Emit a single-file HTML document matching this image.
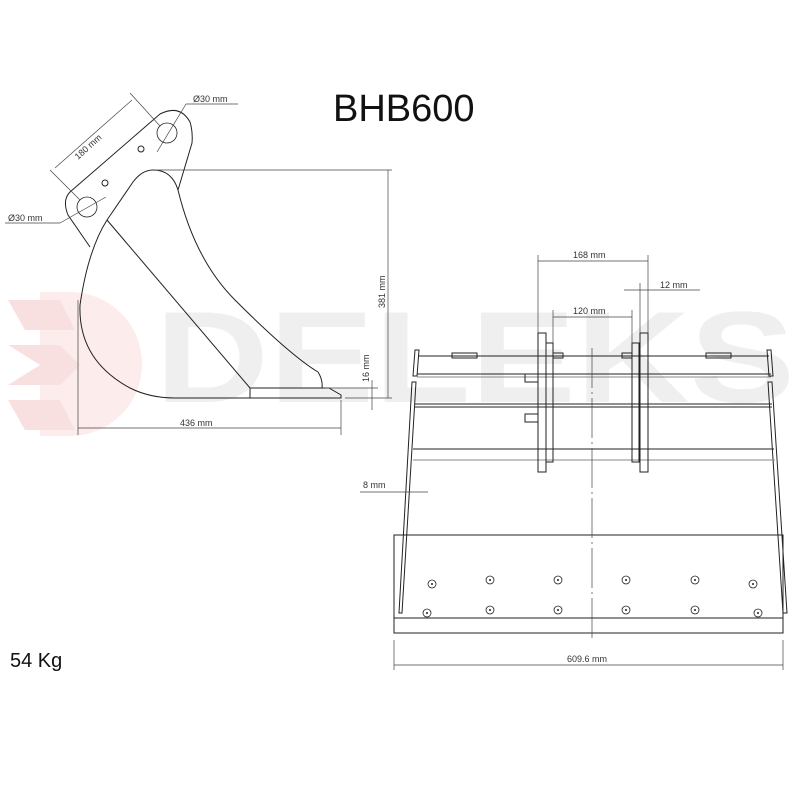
<!DOCTYPE html>
<html><head><style>
html,body{margin:0;padding:0;background:#fff;}
svg{display:block;}
text{font-family:"Liberation Sans",sans-serif;}
</style></head><body>
<svg width="800" height="800" viewBox="0 0 800 800" xmlns="http://www.w3.org/2000/svg">
<!-- watermark -->
<g opacity="0.75">
<path d="M70,292 A72,72 0 0 1 70,436 L40,436 L40,292 Z" fill="#fbe6e6"/>
<path d="M8,300 L60,300 L75,330 L25,330 Z M8,345 L60,345 L80,365 L60,385 L8,385 L40,365 Z M8,400 L60,400 L75,430 L25,430 Z" fill="#f8d6d6"/>
</g>
<text x="155" y="402" font-size="130" font-weight="bold" fill="#efefef" textLength="640" lengthAdjust="spacingAndGlyphs">DELEKS</text>
<text x="333" y="121" font-size="38" fill="#111">BHB600</text>
<text x="10" y="667" font-size="20" fill="#111">54 Kg</text>

<g fill="none" stroke="#222" stroke-width="1">
<path d="M90,247 L68,215 Q62,200 70,192 L160,114 Q180,104 190,122 Q193,132 192,143 L178,190"/>
<circle cx="87" cy="207" r="10" stroke-width="0.8"/>
<circle cx="167" cy="133" r="10" stroke-width="0.8"/>
<circle cx="141" cy="149" r="3"/>
<circle cx="105" cy="183" r="3"/>
<path d="M107,220 L133,182 Q142,170 153,170 Q172,170 178,190 Q195,260 235,300 Q290,355 318,372 Q323,380 322,388"/>
<path d="M107,220 Q88,250 80,305 Q78,360 130,388 Q150,398 175,398 L341,398 L341,395 L329,388 L250,388 L250,398"/>
<path d="M107,220 L250,388"/>
</g>
<g stroke="#444" stroke-width="0.7" fill="none">
<line x1="50" y1="170" x2="80" y2="200"/><line x1="130" y1="93" x2="160" y2="126"/>
<line x1="55" y1="168" x2="132" y2="100"/>
<line x1="155" y1="170" x2="392" y2="170"/>
<line x1="388" y1="170" x2="388" y2="398"/>
<line x1="345" y1="398" x2="392" y2="398"/>
<line x1="325" y1="388" x2="378" y2="388"/>
<line x1="372" y1="380" x2="372" y2="410"/>
<line x1="78" y1="300" x2="78" y2="435"/><line x1="341" y1="400" x2="341" y2="435"/>
<line x1="78" y1="428" x2="341" y2="428"/>
<line x1="5" y1="223" x2="60" y2="223"/><line x1="60" y1="223" x2="106" y2="197"/>
<line x1="238" y1="104" x2="186" y2="104"/><line x1="186" y1="104" x2="157" y2="152"/>
</g>
<g font-size="9" fill="#333">
<text x="0" y="0" transform="translate(78,160) rotate(-42)">180 mm</text>
<text x="8" y="221">Ø30 mm</text>
<text x="193" y="102">Ø30 mm</text>
<text x="0" y="0" transform="translate(385,308) rotate(-90)">381 mm</text>
<text x="0" y="0" transform="translate(369,382) rotate(-90)">16 mm</text>
<text x="180" y="426">436 mm</text>
</g>
<g fill="none" stroke="#222" stroke-width="1">
<path d="M415,350 L419,350 L417,376 L413,376 Z"/>
<path d="M412,382 L416,382 L402,613 L399,613 Z"/>
<path d="M767,350 L771,350 L773,376 L769,376 Z"/>
<path d="M768,382 L772,382 L787,613 L783,613 Z"/>
<line x1="419" y1="356" x2="769" y2="356"/>
<line x1="417" y1="374" x2="771" y2="374"/><line x1="417" y1="377" x2="771" y2="377" stroke="#888"/>
<line x1="415" y1="404" x2="772" y2="404"/><line x1="415" y1="407" x2="772" y2="407"/>
<line x1="413" y1="449" x2="774" y2="449"/>
<line x1="413" y1="460" x2="775" y2="460" stroke="#888"/>
<rect x="452" y="353" width="25" height="5"/><rect x="706" y="353" width="25" height="5"/>
<rect x="553" y="353" width="10" height="5"/><rect x="622" y="353" width="10" height="5"/>
<rect x="525" y="374" width="13" height="8"/><rect x="525" y="414" width="13" height="8"/>
<rect x="538" y="333" width="8" height="139"/><rect x="546" y="343" width="7" height="119"/>
<rect x="640" y="333" width="8" height="139"/><rect x="632" y="343" width="7" height="119"/>
<rect x="394" y="535" width="389" height="98"/>
<line x1="394" y1="618" x2="783" y2="618"/>
</g>
<line x1="592" y1="348" x2="592" y2="640" stroke="#444" stroke-width="0.7" stroke-dasharray="40,4,2,4"/>
<g fill="none" stroke="#222" stroke-width="0.8">
<circle cx="432" cy="584" r="4"/><circle cx="490" cy="580" r="4"/><circle cx="558" cy="580" r="4"/><circle cx="626" cy="580" r="4"/><circle cx="695" cy="580" r="4"/><circle cx="753" cy="584" r="4"/>
<circle cx="427" cy="613" r="4"/><circle cx="490" cy="610" r="4"/><circle cx="558" cy="610" r="4"/><circle cx="626" cy="610" r="4"/><circle cx="695" cy="610" r="4"/><circle cx="758" cy="613" r="4"/>
</g>
<g fill="#222">
<circle cx="432" cy="584" r="1"/><circle cx="490" cy="580" r="1"/><circle cx="558" cy="580" r="1"/><circle cx="626" cy="580" r="1"/><circle cx="695" cy="580" r="1"/><circle cx="753" cy="584" r="1"/>
<circle cx="427" cy="613" r="1"/><circle cx="490" cy="610" r="1"/><circle cx="558" cy="610" r="1"/><circle cx="626" cy="610" r="1"/><circle cx="695" cy="610" r="1"/><circle cx="758" cy="613" r="1"/>
</g>
<g stroke="#444" stroke-width="0.7">
<line x1="538" y1="255" x2="538" y2="333"/><line x1="648" y1="255" x2="648" y2="333"/>
<line x1="538" y1="261" x2="648" y2="261"/>
<line x1="640" y1="283" x2="640" y2="333"/>
<line x1="624" y1="290" x2="700" y2="290"/>
<line x1="553" y1="310" x2="553" y2="343"/><line x1="632" y1="310" x2="632" y2="343"/>
<line x1="553" y1="317" x2="632" y2="317"/>
<line x1="360" y1="492" x2="428" y2="492"/>
<line x1="394" y1="640" x2="394" y2="670"/><line x1="783" y1="640" x2="783" y2="670"/>
<line x1="394" y1="665" x2="783" y2="665"/>
</g>
<g font-size="9" fill="#333">
<text x="573" y="258">168 mm</text>
<text x="660" y="288">12 mm</text>
<text x="573" y="314">120 mm</text>
<text x="363" y="488">8 mm</text>
<text x="567" y="662">609.6 mm</text>
</g>
</svg>
</body></html>
